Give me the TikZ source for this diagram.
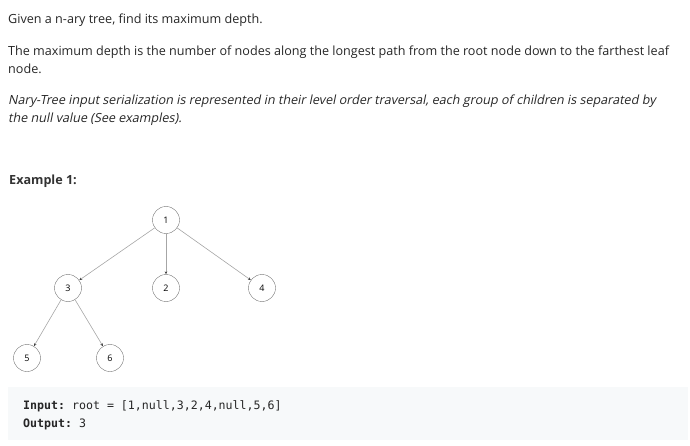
\documentclass[tikz,border=0pt]{standalone}
\usepackage{fontspec}
\setmainfont{Open Sans}
\setmonofont{DejaVu Sans Mono}
\newfontfamily\slantsans[FakeSlant=0.2]{Open Sans}
\usetikzlibrary{arrows.meta}
\definecolor{txt}{HTML}{262626}
\definecolor{codebg}{HTML}{F7F9FA}
\tikzset{
	para/.style={anchor=base west, inner sep=0pt, text=txt, font=\fontsize{12.6}{15}\selectfont},
	code/.style={anchor=base west, inner sep=0pt, text=txt, font=\fontsize{11.6}{14}\ttfamily},
	tnode/.style={circle, draw=black!55, minimum size=27pt, inner sep=0pt, font=\fontsize{9}{10}\selectfont},
	tedge/.style={draw=black!35, line width=0.6pt, -{Stealth[length=3pt, width=2.6pt, black!75]}}
}
\begin{document}
\begin{tikzpicture}[x=1pt, y=-1pt]
	\useasboundingbox (0,0) rectangle (690,446);
	% text
	\node[para] (l1) at (8,24) {Given a n-ary tree, find its maximum depth.};
	\node[para] (l2) at (8,56) {The maximum depth is the number of nodes along the longest path from the root node down to the farthest leaf};
	\node[para] (l3) at (8,74) {node.};
	\node[para, font=\fontsize{12.6}{15}\slantsans] (l4) at (8,105) {Nary-Tree input serialization is represented in their level order traversal, each group of children is separated by};
	\node[para, font=\fontsize{12.6}{15}\slantsans] (l5) at (8,123) {the null value (See examples).};
	\node[para, font=\fontsize{12.6}{15}\bfseries, text=black!80] (ex) at (9,185) {Example 1:};
	% tree
	\node[tnode] (n1) at (166,220) {1};
	\node[tnode] (n3) at (68,288) {3};
	\node[tnode] (n2) at (166,288) {2};
	\node[tnode] (n4) at (262,288) {4};
	\node[tnode] (n5) at (27,358) {5};
	\node[tnode] (n6) at (110,358) {6};
	\draw[tedge] (n1)--(n3);
	\draw[tedge] (n1)--(n2);
	\draw[tedge] (n1)--(n4);
	\draw[tedge] (n3)--(n5);
	\draw[tedge] (n3)--(n6);
	% code box
	\fill[codebg] (8,387) rectangle (688,440);
	\node[code] (in) at (23,409) {\textbf{Input:} root = [1,null,3,2,4,null,5,6]};
	\node[code] (out) at (23,427) {\textbf{Output:} 3};
\end{tikzpicture}
\end{document}
